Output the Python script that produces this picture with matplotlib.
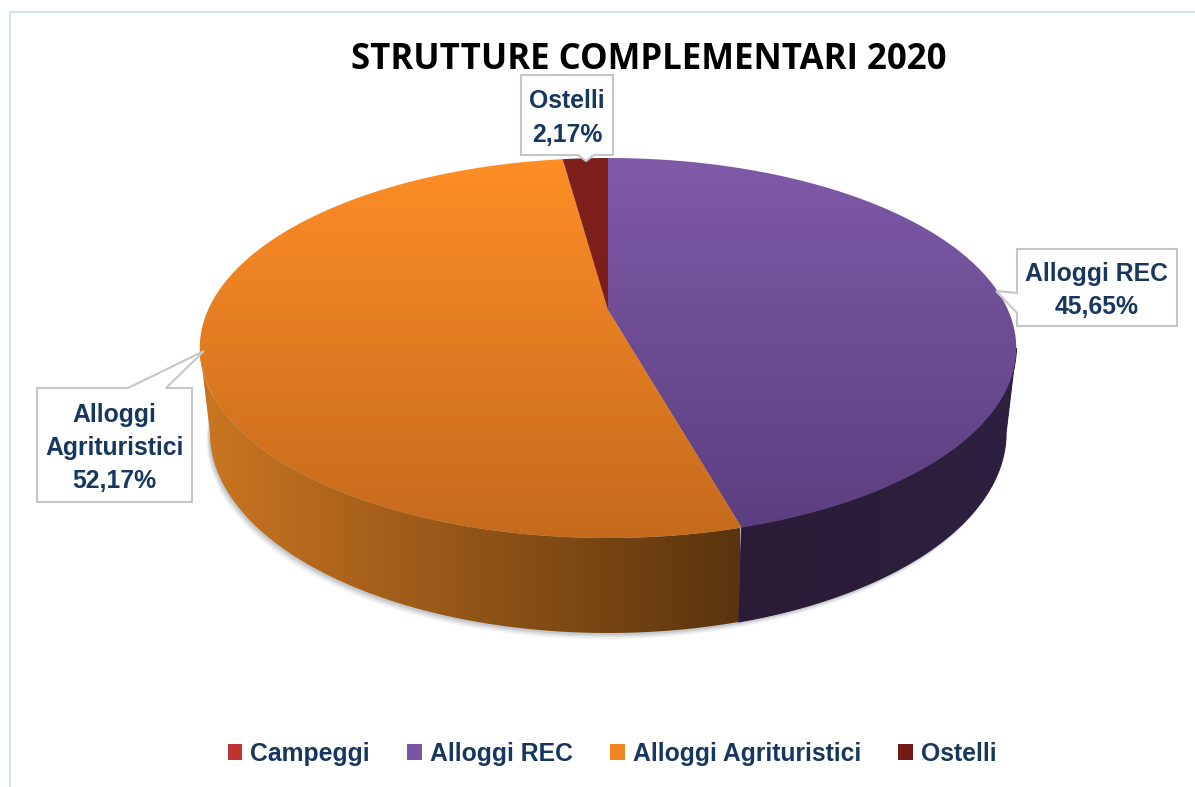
import numpy as np
import matplotlib
matplotlib.use('Agg')
from matplotlib import pyplot as plt
from matplotlib.colors import LinearSegmentedColormap
from matplotlib.patches import Patch, Polygon

categories = ['Campeggi', 'Alloggi REC', 'Alloggi Agrituristici', 'Ostelli']
values = [0.0, 45.65, 52.17, 2.17]
value_labels = ['0,00%', '45,65%', '52,17%', '2,17%']

top_colors = [('#c8322f', '#a82825'), ('#7f5aa8', '#5a3d7e'), ('#fe8e27', '#c4691c'), ('#7e201b', '#7a1e1a')]
side_colors = [('#8a1f1c', '#8a1f1c'), ('#2a1c36', '#2e2040'), ('#cb7621', '#5a340e'), ('#4a100d', '#4a100d')]
legend_colors = ['#c0332f', '#7b55a3', '#f2851f', '#761a16']
text_color = '#17375e'
box_edge = '#c4c6c8'
label_font = ['Liberation Sans']

fig = plt.figure(figsize=(11.95, 7.87), dpi=100)
ax = fig.add_axes([0, 0, 1, 1])

# perspective of the disc, in pixels of the picture
cx = 608
k = 0.2
top_disc = (310, 182.4, 400)
bottom_disc = (393, 192, 390)


def project(t, disc):
    y0, a, b = disc
    u = np.sin(t)
    v = np.cos(t)
    w = 1 + k * v
    return cx + b * u / w, y0 - a * v / w


def gradient_fill(points, colors, horizontal, extent):
    poly = Polygon(points, closed=True, facecolor='none', edgecolor='none')
    ax.add_patch(poly)
    cmap = LinearSegmentedColormap.from_list('g', colors)
    grad = np.linspace(0, 1, 256)
    grad = grad.reshape(1, -1) if horizontal else grad.reshape(-1, 1)
    im = ax.imshow(grad, cmap=cmap, extent=extent, aspect='auto', origin='upper', zorder=3)
    im.set_clip_path(poly)


# soft shadow under the rim
tt = np.radians(np.linspace(0, 360, 361))
for off, alpha in [(9, 0.06), (7, 0.08), (5, 0.11), (3, 0.15)]:
    bx, by = project(tt, bottom_disc)
    ax.fill(bx - off * 0.4, by + off * 0.7, color='#5a6470', alpha=alpha, lw=0, zorder=1)

edges = np.cumsum([0] + values) / np.sum(values) * 2 * np.pi

# rim first, the top goes over it. only the front part, up to the widest points of the disc
front_start = np.arccos(-k)
front_end = 2 * np.pi - front_start
for i in range(len(values)):
    t1 = max(edges[i], front_start)
    t2 = min(edges[i + 1], front_end)
    if t2 <= t1:
        continue
    t = np.linspace(t1, t2, 200)
    x1, y1 = project(t, top_disc)
    x2, y2 = project(t, bottom_disc)
    pts = np.column_stack([np.r_[x1, x2[::-1]], np.r_[y1, y2[::-1]]])
    if categories[i] == 'Alloggi Agrituristici':
        extent = (200, 740, 640, 340)
    else:
        extent = (736, 1018, 640, 340)
        # dark base so no light seam shows between the two rim pieces
        ax.add_patch(Polygon(pts, closed=True, facecolor=side_colors[i][1], edgecolor=side_colors[i][1], lw=0.8, zorder=2.5))
    gradient_fill(pts, side_colors[i], True, extent)

for i in range(len(values)):
    if values[i] == 0:
        continue
    t = np.linspace(edges[i], edges[i + 1], 300)
    x1, y1 = project(t, top_disc)
    pts = np.column_stack([np.r_[cx, x1], np.r_[top_disc[0], y1]])
    gradient_fill(pts, top_colors[i], False, (190, 1025, 545, 155))

# callouts: box corners, pointer base and tip
callouts = [
    (1, (1017, 249, 1177, 326), [(1017, 293), (996, 291), (1017, 313)], 'Alloggi REC\n'),
    (2, (37, 388, 192, 502), [(128, 388), (204, 351), (166, 388)], 'Alloggi\nAgrituristici\n'),
    (3, (521, 75, 613, 155), [(578, 155), (586, 161), (594, 155)], 'Ostelli\n'),
]
for idx, (l, t, r, b), ptr, name in callouts:
    if ptr[0][1] == t:
        outline = [(l, t), ptr[0], ptr[1], ptr[2], (r, t), (r, b), (l, b)]
    elif ptr[0][1] == b:
        outline = [(l, t), (r, t), (r, b), ptr[2], ptr[1], ptr[0], (l, b)]
    else:
        outline = [(l, t), (r, t), (r, b), (l, b), ptr[2], ptr[1], ptr[0]]
    ax.add_patch(Polygon(outline, closed=True, facecolor='white', edgecolor=box_edge, lw=1.5, zorder=5))
    ax.text((l + r) / 2, (t + b) / 2 + 3, name + value_labels[idx], ha='center', va='center',
            family=label_font, fontweight='bold', fontsize=17.8, color=text_color,
            linespacing=1.48, zorder=6)

ax.text(649, 60, 'STRUTTURE COMPLEMENTARI 2020', ha='center', va='center', family=['Open Sans'],
        fontweight='bold', fontsize=25, color='black', zorder=6)

handles = [Patch(facecolor=c, edgecolor='none') for c in legend_colors]
leg = ax.legend(handles, categories, ncol=4, loc='center', bbox_to_anchor=(612 / 1195, 1 - 754 / 787),
                frameon=False, handlelength=0.6, handleheight=0.6, handletextpad=0.32, columnspacing=1.5,
                prop={'family': label_font, 'weight': 'bold', 'size': 17.8}, labelcolor=text_color)

# thin frame of the chart area
ax.plot([10, 10, 1195], [787, 12, 12], color='#d3e2f3', lw=1.5, zorder=2)

ax.set_xlim(0, 1195)
ax.set_ylim(787, 0)
ax.axis('off')

plt.savefig('out.png', dpi=100)
